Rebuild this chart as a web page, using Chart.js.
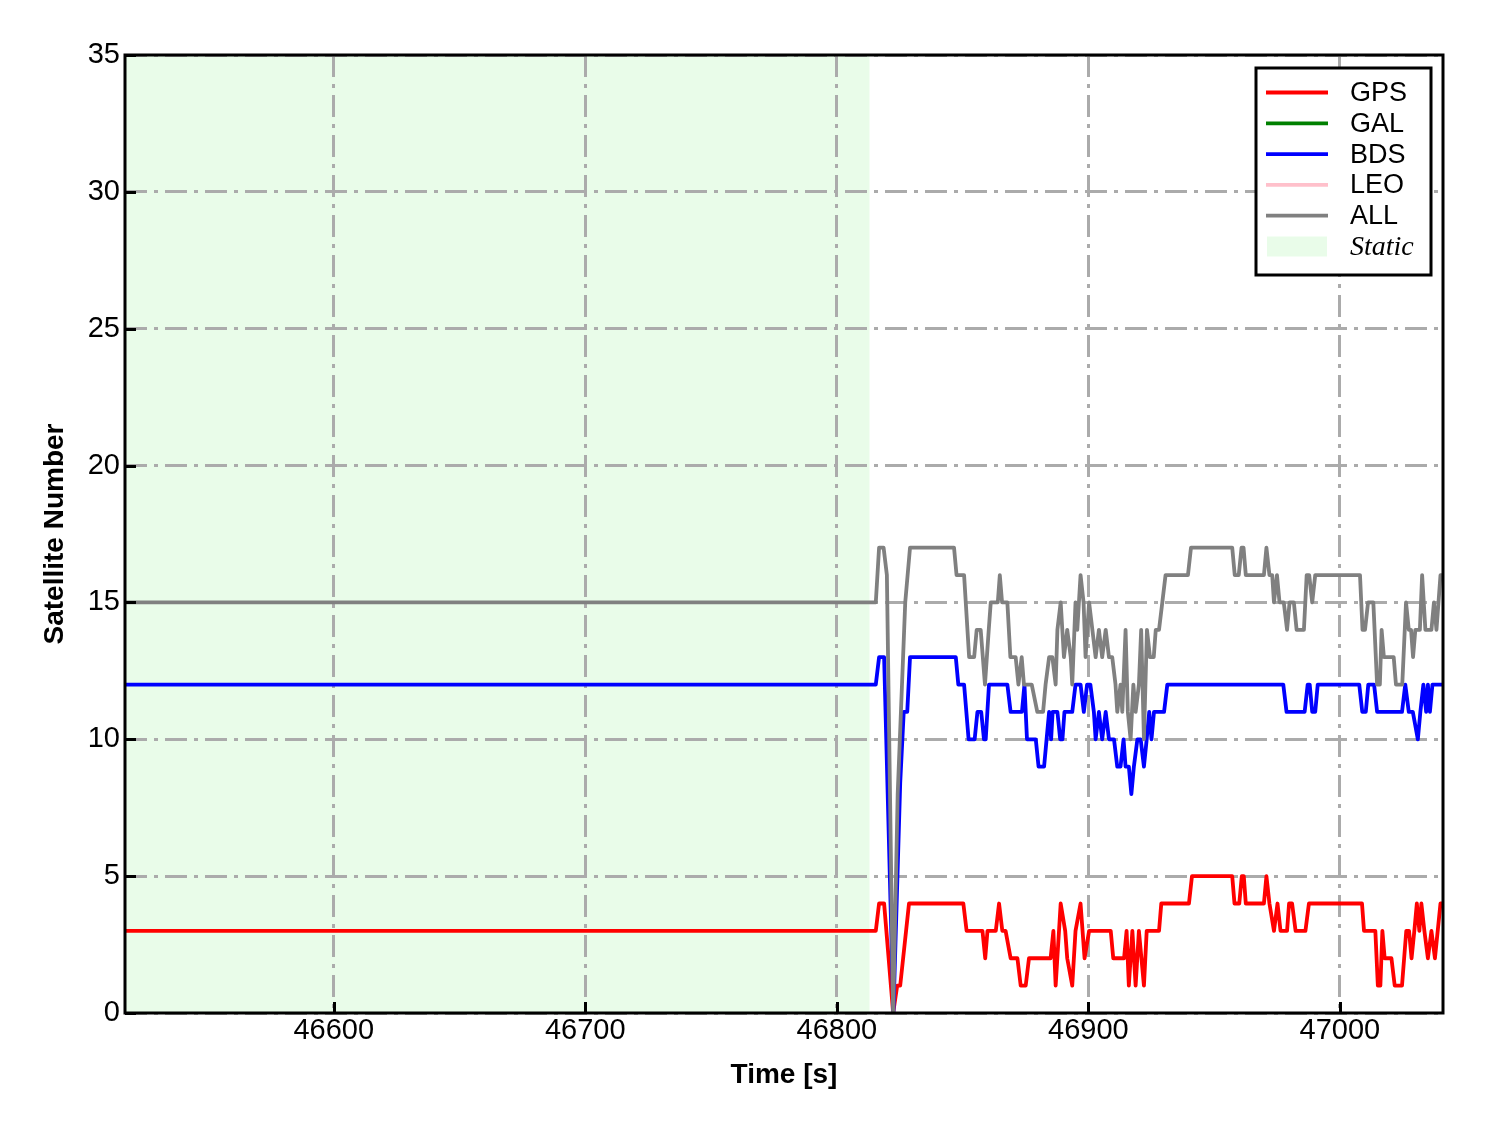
<!DOCTYPE html>
<html>
<head>
<meta charset="utf-8">
<script src="https://cdn.jsdelivr.net/npm/chart.js@4.4.1/dist/chart.umd.min.js"></script>
<style>
  html, body { margin: 0; padding: 0; background: #fff; }
  #wrap { width: 1488px; height: 1133px; }
</style>
</head>
<body>
<div id="wrap"><canvas id="chart-satellites" width="1488" height="1133"></canvas></div>
<script>
// axis setup
var xTicks = [46600, 46700, 46800, 46900, 47000];
var yTicks = [0, 5, 10, 15, 20, 25, 30, 35];
var xRange = [46517, 47041];
var staticEnd = 46813;

// [time, count] vertices
var gpsPoints = [[46517,3],[46815.5,3],[46816.8,4],[46818.8,4],[46822.4,0],[46824,1],[46825.2,1],[46828.7,4],
  [46850.3,4],[46851.6,3],[46857.9,3],[46859,2],[46859.9,3],[46863.2,3],[46864.5,4],[46865.8,3],[46867.1,3],
  [46869.1,2],[46871.8,2],[46873.1,1],[46875.1,1],[46876.4,2],[46885,2],[46886.1,3],[46887,1],[46889,4],
  [46890.8,3],[46891.6,2],[46893.6,1],[46894.9,3],[46896.9,4],[46898.5,2],[46900.3,3],[46908.9,3],[46909.9,2],
  [46914.2,2],[46915.2,3],[46916.1,1],[46917.5,3],[46918.8,1],[46920.1,3],[46922.1,1],[46923.2,3],[46928.1,3],
  [46929,4],[46940,4],[46941.2,5],[46957.2,5],[46958.1,4],[46960,4],[46961,5],[46961.8,5],[46962.6,4],
  [46969.8,4],[46970.8,5],[46972,4],[46973.8,3],[46975.2,4],[46976.4,3],[46979,3],[46979.8,4],[46981,4],
  [46982.4,3],[46986.3,3],[46987.7,4],[47008.8,4],[47009.6,3],[47014.1,3],[47015.1,1],[47016.1,1],[47016.9,3],
  [47017.8,2],[47020.5,2],[47021.8,1],[47024.7,1],[47026.4,3],[47027.5,3],[47028.5,2],[47029.6,3],[47030.6,4],
  [47031.6,3],[47032.4,4],[47033.6,3],[47035,2],[47036.4,3],[47037.8,2],[47040,4],[47041,4]];
var galPoints = [];
var bdsPoints = [[46517,12],[46815.5,12],[46816.8,13],[46818.8,13],[46822.5,0],[46825.2,8.4],[46826.6,11],[46828,11],
  [46829.1,13],[46847.3,13],[46848.3,12],[46850.6,12],[46852.4,10],[46854.8,10],[46855.9,11],[46857.4,11],
  [46858.5,10],[46859.2,10],[46860.5,12],[46867.8,12],[46869.1,11],[46873.6,11],[46874.6,12],[46875.6,10],
  [46879.1,10],[46880.2,9],[46882.4,9],[46883.4,10],[46884.4,11],[46885.2,10],[46885.8,11],[46887.7,11],
  [46888.8,10],[46889.7,10],[46890.5,11],[46893.6,11],[46894.9,12],[46896.9,12],[46898.2,11],[46899.5,12],
  [46900.8,12],[46902.2,11],[46902.9,10],[46904.2,11],[46905.5,10],[46906.9,11],[46908.2,10],[46910.2,10],
  [46911.5,9],[46912.8,9],[46914,10],[46914.8,9],[46916.1,9],[46917.1,8],[46918.1,9],[46919.5,10],[46920.8,10],
  [46922.1,9],[46923.2,10],[46924.2,11],[46925.1,10],[46926.1,11],[46930.1,11],[46931.4,12],[46977.5,12],
  [46978.8,11],[46986,11],[46987.2,12],[46988,12],[46989,11],[46990.2,11],[46991.2,12],[47007.7,12],[47008.9,11],
  [47010.3,11],[47011.3,12],[47013.6,12],[47014.8,11],[47024.7,11],[47026,12],[47027.4,11],[47029,11],[47031,10],
  [47032,11],[47033.2,12],[47034.3,11],[47035,12],[47035.8,11],[47036.8,12],[47041,12]];
var leoPoints = [];
var allPoints = [[46517,15],[46815.5,15],[46816.8,17],[46818.6,17],[46819.9,16],[46822.4,0],[46824.2,8],[46827.2,15],
  [46829.1,17],[46846.6,17],[46847.6,16],[46850.6,16],[46852.6,13],[46854.6,13],[46855.6,14],[46857.2,14],
  [46858.9,12],[46860.4,14],[46861.2,15],[46864,15],[46864.8,16],[46865.7,15],[46867.8,15],[46869,13],[46871.1,13],
  [46872.2,12],[46873.5,13],[46874.4,12],[46877.5,12],[46879.7,11],[46882,11],[46883,12],[46884.4,13],[46885.7,13],
  [46887,12],[46887.7,14],[46889,15],[46890.3,13],[46891.6,14],[46893,13],[46893.6,12],[46894.9,15],[46895.6,14],
  [46896.9,16],[46898.1,15],[46898.9,13],[46900.3,15],[46901.6,14],[46902.9,13],[46904.2,14],[46905.5,13],
  [46906.9,14],[46908.2,13],[46909.5,13],[46910.8,12],[46911.5,11],[46912.8,12],[46913.5,11],[46914.8,14],
  [46915.7,11],[46916.8,10],[46917.9,12],[46918.8,11],[46920.1,12],[46921,14],[46922.1,10],[46923.3,14],
  [46924.5,13],[46926,13],[46926.8,14],[46928.1,14],[46929.4,15],[46930.7,16],[46939.6,16],[46940.8,17],
  [46957.2,17],[46958.2,16],[46959.8,16],[46960.9,17],[46961.7,17],[46962.6,16],[46969.8,16],[46970.8,17],
  [46972,16],[46973.1,16],[46973.8,15],[46975,16],[46976,15],[46977.7,15],[46979,14],[46980,15],[46981.7,15],
  [46982.8,14],[46985.7,14],[46986.8,16],[46987.8,16],[46989,15],[46990.2,16],[47008,16],[47009,14],[47010,14],
  [47011.2,15],[47013.3,15],[47014.8,12],[47015.9,12],[47016.6,14],[47017.5,13],[47021.4,13],[47022.3,12],
  [47024.8,12],[47026.3,15],[47027.4,14],[47028.3,14],[47029.1,13],[47030,14],[47031.8,14],[47032.7,16],
  [47034,14],[47036.4,14],[47037.4,15],[47038.4,14],[47040,16],[47041,16]];

var seriesNames = ["GPS", "GAL", "BDS", "LEO", "ALL"];
var seriesData = [gpsPoints, galPoints, bdsPoints, leoPoints, allPoints];
var seriesColors = ["#ff0000", "#008000", "#0000ff", "#ffc0cb", "#808080"];
var staticColor = "rgba(144,238,144,0.2)";

var SANS = "'Liberation Sans', Arial, sans-serif";

function toXY(points) {
    return points.map(function (p) { return { x: p[0], y: p[1] }; });
}

// light green "Static" span, drawn under the grid
var staticShade = {
    id: "staticShade",
    beforeDraw: function (chart) {
        var ctx = chart.ctx, a = chart.chartArea, sx = chart.scales.x;
        var x0 = sx.getPixelForValue(xRange[0]);
        var x1 = sx.getPixelForValue(staticEnd);
        ctx.save();
        ctx.fillStyle = staticColor;
        ctx.fillRect(x0, a.top, x1 - x0, a.bottom - a.top);
        ctx.restore();
    }
};

// matplotlib-like box frame, inward ticks and boxed legend
var frameAndLegend = {
    id: "frameAndLegend",
    afterDraw: function (chart) {
        var ctx = chart.ctx, a = chart.chartArea;
        var sx = chart.scales.x, sy = chart.scales.y;
        ctx.save();
        ctx.strokeStyle = "#000";
        ctx.lineWidth = 3;
        ctx.beginPath();
        sx.ticks.forEach(function (t) {
            var px = Math.round(sx.getPixelForValue(t.value)) + 0.5;
            ctx.moveTo(px, a.bottom);
            ctx.lineTo(px, a.bottom - 11);
        });
        sy.ticks.forEach(function (t) {
            var py = Math.round(sy.getPixelForValue(t.value)) + 0.5;
            ctx.moveTo(a.left, py);
            ctx.lineTo(a.left + 11, py);
        });
        ctx.stroke();
        ctx.strokeRect(a.left, a.top, a.right - a.left, a.bottom - a.top);

        // legend
        var bx = a.right - 187, by = a.top + 13, bw = 175, bh = 207;
        ctx.fillStyle = "#fff";
        ctx.fillRect(bx, by, bw, bh);
        ctx.lineWidth = 3;
        ctx.strokeRect(bx, by, bw, bh);
        ctx.textBaseline = "middle";
        ctx.textAlign = "left";
        for (var i = 0; i < seriesNames.length; i++) {
            var ly = by + 24.5 + i * 30.8;
            ctx.strokeStyle = seriesColors[i];
            ctx.lineWidth = 3.8;
            ctx.beginPath();
            ctx.moveTo(bx + 10, ly);
            ctx.lineTo(bx + 72, ly);
            ctx.stroke();
            ctx.fillStyle = "#000";
            ctx.font = "27px " + SANS;
            ctx.fillText(seriesNames[i], bx + 94, ly + 1);
        }
        var sy0 = by + 24.5 + 5 * 30.8;
        ctx.fillStyle = staticColor;
        ctx.fillRect(bx + 11, sy0 - 10, 60, 20);
        ctx.fillStyle = "#000";
        ctx.font = "italic 28px 'Liberation Serif', 'Times New Roman', serif";
        ctx.fillText("Static", bx + 94, sy0 + 1);
        ctx.restore();
    }
};

var datasets = seriesNames.map(function (name, i) {
    return {
        label: name,
        data: toXY(seriesData[i]),
        borderColor: seriesColors[i],
        backgroundColor: seriesColors[i],
        borderWidth: 3.8,
        borderJoinStyle: "round",
        pointRadius: 0,
        tension: 0,
        fill: false,
        order: seriesNames.length - i
    };
});

var gridDash = [22, 7, 4, 7];

new Chart(document.getElementById("chart-satellites"), {
    type: "line",
    data: { datasets: datasets },
    plugins: [staticShade, frameAndLegend],
    options: {
        responsive: false,
        animation: false,
        devicePixelRatio: 1,
        layout: { padding: { top: 55, right: 45, left: 0, bottom: 0 } },
        plugins: {
            legend: { display: false },
            tooltip: { enabled: false }
        },
        scales: {
            x: {
                type: "linear",
                min: xRange[0],
                max: xRange[1],
                afterBuildTicks: function (scale) {
                    scale.ticks = xTicks.map(function (v) { return { value: v }; });
                },
                afterFit: function (scale) { scale.height = 120; },
                grid: { color: "#ababab", lineWidth: 3, drawTicks: false },
                border: { display: false, dash: gridDash },
                ticks: {
                    color: "#000",
                    padding: 1,
                    maxRotation: 0,
                    font: { family: SANS, size: 29 },
                    callback: function (v) { return String(v); }
                },
                title: {
                    display: true,
                    text: "Time [s]",
                    color: "#000",
                    font: { family: SANS, size: 28, weight: "bold" },
                    padding: { top: 0, bottom: 41 }
                }
            },
            y: {
                min: yTicks[0],
                max: yTicks[yTicks.length - 1],
                afterBuildTicks: function (scale) {
                    scale.ticks = yTicks.map(function (v) { return { value: v }; });
                },
                afterFit: function (scale) { scale.width = 125; },
                grid: { color: "#ababab", lineWidth: 3, drawTicks: false },
                border: { display: false, dash: gridDash },
                ticks: {
                    color: "#000",
                    padding: 5,
                    font: { family: SANS, size: 29 }
                },
                title: {
                    display: true,
                    text: "Satellite Number",
                    color: "#000",
                    font: { family: SANS, size: 28, weight: "bold" },
                    padding: { top: 38, bottom: 0 }
                }
            }
        }
    }
});
</script>
</body>
</html>
